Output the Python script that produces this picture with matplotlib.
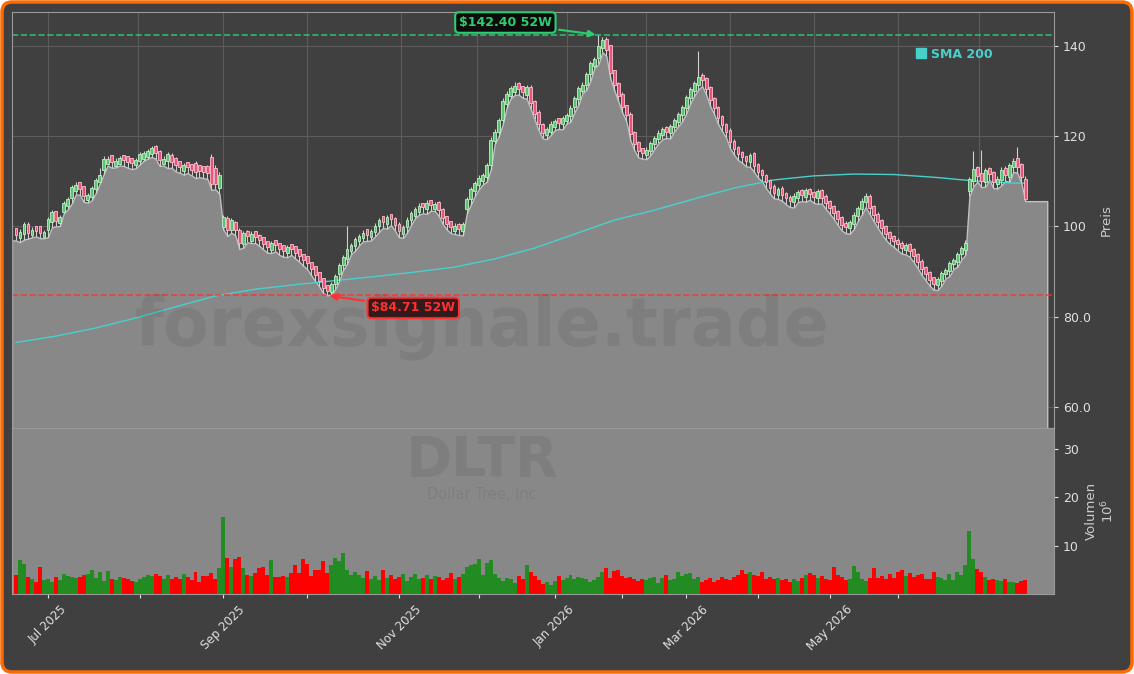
import numpy as np
import matplotlib.pyplot as plt
from matplotlib.patches import FancyBboxPatch
from matplotlib.lines import Line2D

# daily OHLC (USD)
open_ = [99.6, 97.4, 98.4, 100.6, 98.0, 100.0, 100.2, 97.6, 99.2, 101.0,
         103.4, 100.8, 103.2, 104.6, 106.2, 107.8, 109.8, 108.9, 105.8, 106.6,
         108.2, 109.8, 112.4, 113.8, 115.8, 113.4, 113.9, 115.9, 115.6, 115.2,
         113.6, 114.6, 115.0, 115.4, 116.0, 117.8, 116.8, 113.9, 114.4, 115.9,
         115.2, 114.4, 112.2, 114.2, 113.8, 114.0, 113.6, 113.4, 113.3, 115.4,
         113.0, 108.5, 99.8, 101.9, 99.2, 101.0, 99.2, 96.2, 99.0, 96.8,
         98.9, 98.2, 97.6, 96.8, 94.8, 97.0, 96.4, 95.9, 94.2, 96.2,
         95.6, 94.9, 94.0, 93.4, 92.2, 91.2, 89.9, 88.6, 87.0, 85.5,
         87.2, 89.4, 91.4, 92.8, 94.6, 95.6, 96.8, 97.5, 99.4, 97.6,
         98.8, 100.0, 102.2, 100.6, 102.8, 101.9, 100.6, 98.4, 99.8, 101.4,
         102.4, 103.2, 105.2, 103.8, 105.8, 103.9, 105.4, 103.9, 102.2, 101.2,
         99.0, 100.6, 99.0, 103.8, 106.0, 107.8, 109.2, 110.0, 111.0, 113.6,
         119.0, 121.0, 123.6, 127.2, 129.0, 129.8, 131.8, 131.2, 129.2, 130.9,
         127.8, 125.4, 122.8, 120.2, 121.0, 122.0, 124.0, 122.6, 123.4, 124.4,
         126.4, 128.2, 130.0, 131.4, 133.8, 135.6, 137.2, 139.6, 141.6, 140.2,
         134.6, 131.8, 129.4, 126.8, 125.0, 121.0, 118.8, 117.4, 115.8, 116.8,
         118.2, 119.4, 120.2, 122.0, 120.6, 122.0, 123.2, 124.6, 126.2, 128.4,
         130.0, 131.4, 133.6, 132.8, 130.8, 128.4, 126.4, 124.4, 122.8, 121.4,
         119.0, 117.6, 116.4, 115.6, 114.2, 116.2, 113.8, 112.6, 111.4, 110.3,
         109.0, 107.0, 108.6, 107.4, 106.6, 105.4, 106.4, 108.0, 106.6, 108.3,
         107.6, 106.2, 108.0, 106.8, 105.6, 104.6, 103.4, 102.0, 100.8, 99.6,
         100.6, 102.4, 103.8, 105.4, 106.8, 104.6, 102.8, 101.4, 100.0, 98.7,
         97.9, 97.1, 96.4, 94.8, 96.1, 95.0, 93.8, 92.4, 91.0, 89.8,
         88.8, 87.0, 88.0, 89.4, 90.2, 91.6, 92.2, 93.8, 94.8, 107.8,
         110.0, 113.2, 111.8, 109.9, 112.9, 112.0, 109.4, 110.2, 113.0, 111.0,
         113.2, 115.2, 113.8, 110.6]
high = [99.1, 99.4, 101.0, 100.9, 99.8, 99.6, 100.0, 99.3, 102.0, 103.6,
        103.5, 102.5, 105.6, 106.6, 109.2, 109.8, 109.7, 108.9, 107.5, 108.9,
        110.8, 113.0, 115.5, 115.6, 115.9, 115.1, 115.7, 115.5, 115.2, 114.8,
        115.2, 116.5, 116.8, 117.1, 117.8, 118.0, 116.9, 115.6, 116.5, 116.2,
        115.4, 114.1, 114.1, 113.9, 113.5, 114.4, 113.5, 113.3, 113.5, 116.0,
        113.6, 112.0, 102.6, 102.4, 101.9, 101.3, 99.6, 98.9, 99.1, 98.9,
        99.0, 98.3, 97.6, 96.4, 96.8, 96.9, 96.3, 95.6, 95.9, 96.1,
        95.4, 94.7, 94.0, 93.2, 92.1, 91.0, 89.8, 88.5, 87.0, 87.8,
        89.5, 92.0, 93.7, 100.0, 96.3, 97.7, 98.4, 99.1, 99.3, 99.5,
        100.7, 101.9, 102.1, 102.6, 102.7, 102.1, 100.9, 100.3, 102.0, 103.5,
        104.3, 105.1, 105.3, 105.8, 105.9, 105.5, 105.7, 104.1, 102.4, 101.2,
        100.7, 100.8, 101.0, 106.6, 108.7, 110.1, 111.3, 111.9, 114.0, 119.8,
        121.6, 124.0, 128.4, 130.0, 131.2, 131.9, 131.9, 131.1, 131.3, 131.4,
        128.1, 125.7, 123.0, 122.1, 123.3, 123.9, 124.1, 124.5, 125.1, 126.8,
        129.0, 131.1, 131.9, 134.3, 136.7, 137.5, 142.4, 141.9, 141.9, 140.3,
        134.7, 132.0, 129.7, 126.9, 125.3, 121.1, 118.9, 117.3, 117.5, 119.0,
        120.1, 121.3, 122.0, 122.2, 122.8, 124.1, 125.3, 126.9, 129.1, 130.9,
        132.3, 138.8, 133.9, 133.0, 131.2, 128.7, 126.6, 124.7, 123.0, 121.7,
        119.3, 117.9, 116.7, 115.7, 116.3, 116.5, 114.1, 112.8, 111.7, 110.6,
        109.3, 108.7, 108.9, 107.7, 106.9, 107.3, 108.1, 108.3, 108.5, 108.6,
        107.9, 108.3, 108.4, 107.1, 105.9, 104.8, 103.7, 102.3, 101.1, 101.4,
        103.1, 104.6, 106.2, 107.3, 107.1, 104.7, 103.2, 101.7, 100.3, 99.0,
        98.1, 97.4, 96.7, 96.3, 96.4, 95.3, 94.1, 92.7, 91.3, 90.1,
        88.9, 88.9, 90.1, 90.9, 92.3, 93.1, 94.4, 95.7, 96.9, 111.0,
        116.8, 113.4, 117.0, 112.9, 113.1, 112.3, 111.1, 113.1, 113.3, 114.0,
        115.1, 117.6, 114.0, 111.1]
low = [96.9, 96.5, 97.1, 97.3, 97.6, 97.8, 97.4, 97.4, 97.6, 99.8,
       100.0, 100.1, 103.0, 103.8, 105.1, 107.1, 107.0, 105.4, 105.3, 105.8,
       107.4, 109.5, 111.6, 113.5, 113.0, 113.1, 113.5, 113.4, 113.0, 112.7,
       112.9, 113.7, 114.6, 115.0, 115.4, 115.0, 113.4, 113.5, 112.9, 113.0,
       112.2, 111.9, 111.5, 111.8, 111.3, 110.7, 110.9, 110.7, 110.5, 108.1,
       108.2, 107.2, 99.3, 97.9, 98.6, 98.0, 95.0, 95.3, 96.5, 96.3,
       96.3, 95.7, 94.9, 94.2, 94.1, 94.5, 93.7, 93.3, 93.2, 93.7,
       92.9, 92.2, 91.3, 90.5, 89.2, 87.9, 86.7, 85.3, 84.71, 85.0,
       86.1, 87.9, 90.4, 91.7, 93.9, 94.6, 95.8, 96.7, 96.8, 96.9,
       97.8, 98.8, 99.7, 99.5, 100.3, 99.1, 97.6, 97.5, 98.6, 100.3,
       101.8, 102.6, 102.9, 102.8, 103.5, 103.4, 102.3, 100.5, 99.3, 98.5,
       98.3, 98.1, 98.0, 102.9, 104.8, 106.7, 108.2, 109.3, 109.9, 112.6,
       118.2, 119.9, 122.6, 126.3, 128.4, 129.1, 129.2, 128.5, 128.3, 126.1,
       123.7, 121.3, 119.5, 119.3, 120.2, 121.3, 121.6, 121.5, 122.8, 123.2,
       125.3, 127.0, 129.5, 130.3, 132.3, 135.1, 135.9, 138.6, 137.7, 132.7,
       130.1, 127.7, 125.2, 123.3, 119.1, 116.9, 115.3, 115.0, 114.9, 115.8,
       117.1, 118.4, 119.3, 119.6, 119.5, 121.1, 122.2, 123.3, 125.0, 127.2,
       128.9, 130.3, 131.1, 129.2, 126.7, 124.9, 122.7, 121.1, 119.7, 117.3,
       115.9, 114.7, 114.1, 113.3, 113.2, 112.1, 110.8, 110.0, 108.5, 107.3,
       106.2, 106.1, 105.7, 104.9, 104.3, 104.2, 105.4, 105.6, 105.5, 105.9,
       105.2, 105.0, 105.1, 103.9, 102.8, 101.7, 100.3, 99.1, 98.5, 98.4,
       99.4, 101.2, 102.6, 104.3, 102.7, 101.2, 99.7, 98.3, 97.1, 96.1,
       95.5, 94.7, 94.0, 93.8, 93.3, 92.1, 90.8, 89.3, 88.1, 86.9,
       86.0, 85.9, 86.9, 88.5, 89.0, 90.6, 91.1, 92.7, 93.7, 106.7,
       108.9, 109.9, 108.7, 108.8, 110.3, 108.5, 108.4, 109.1, 110.1, 109.9,
       112.1, 111.9, 109.7, 105.6]
close = [98.2, 98.8, 100.6, 98.6, 99.3, 99.0, 98.6, 98.8, 101.6, 103.2,
         101.2, 102.0, 105.2, 106.0, 108.7, 109.2, 108.2, 106.7, 106.9, 108.5,
         110.3, 111.5, 115.0, 115.0, 114.2, 114.6, 115.2, 114.7, 114.3, 114.0,
         114.8, 116.0, 116.2, 116.6, 117.3, 116.3, 114.7, 115.0, 116.0, 114.3,
         113.5, 113.2, 113.6, 113.1, 112.6, 112.0, 112.2, 112.0, 111.8, 109.4,
         109.5, 111.5, 102.0, 99.2, 101.4, 99.3, 96.3, 98.5, 97.8, 98.4,
         97.6, 97.0, 96.2, 95.5, 96.3, 95.8, 95.0, 94.6, 95.4, 95.0,
         94.2, 93.5, 92.6, 91.8, 90.5, 89.2, 88.0, 86.4, 85.6, 87.2,
         89.0, 91.5, 93.2, 95.0, 95.8, 97.2, 97.9, 98.6, 98.1, 99.0,
         100.2, 101.4, 101.0, 102.1, 101.6, 100.4, 98.9, 99.8, 101.5, 103.0,
         103.8, 104.6, 104.2, 105.3, 104.8, 105.0, 103.6, 101.8, 100.6, 99.8,
         100.2, 99.4, 100.5, 106.0, 108.2, 109.6, 110.8, 111.4, 113.5, 119.2,
         121.0, 123.5, 127.8, 129.4, 130.6, 131.2, 130.5, 129.8, 130.8, 127.4,
         125.0, 122.6, 120.8, 121.6, 122.8, 123.4, 122.9, 124.0, 124.6, 126.3,
         128.5, 130.6, 131.4, 133.8, 136.2, 137.0, 140.0, 141.2, 139.0, 134.0,
         131.4, 129.0, 126.5, 124.6, 120.4, 118.2, 116.6, 116.3, 117.0, 118.5,
         119.6, 120.8, 121.5, 120.9, 122.3, 123.6, 124.8, 126.4, 128.6, 130.4,
         131.8, 133.2, 132.4, 130.5, 128.0, 126.2, 124.0, 122.4, 121.0, 118.6,
         117.2, 116.0, 115.4, 114.6, 115.8, 113.4, 112.1, 111.3, 109.8, 108.6,
         107.5, 108.2, 107.0, 106.2, 105.6, 106.8, 107.6, 106.9, 108.0, 107.2,
         106.5, 107.8, 106.4, 105.2, 104.1, 103.0, 101.6, 100.4, 99.8, 100.9,
         102.6, 104.1, 105.7, 106.8, 104.0, 102.5, 101.0, 99.6, 98.4, 97.4,
         96.8, 96.0, 95.3, 95.8, 94.6, 93.4, 92.1, 90.6, 89.4, 88.2,
         87.3, 88.4, 89.6, 90.4, 91.8, 92.6, 93.9, 95.2, 96.4, 110.5,
         112.8, 111.2, 110.0, 112.4, 111.6, 109.8, 110.6, 112.6, 111.4, 113.5,
         114.6, 113.2, 111.0, 106.0]
# volume in millions
volume = [4.0, 7.0, 6.2, 3.5, 3.0, 2.5, 5.5, 2.8, 3.2, 2.5,
          3.6, 2.8, 4.2, 3.8, 3.5, 3.4, 3.6, 4.0, 4.1, 5.0,
          3.4, 4.6, 2.6, 4.8, 3.2, 2.8, 3.5, 3.3, 3.0, 2.6,
          2.4, 3.0, 3.6, 4.0, 3.8, 4.2, 3.7, 3.2, 4.0, 3.1,
          3.6, 3.0, 4.2, 3.5, 2.8, 4.6, 2.5, 3.7, 3.8, 4.4,
          3.0, 5.4, 15.9, 7.4, 5.6, 7.3, 7.6, 5.4, 3.9, 3.7,
          4.4, 5.4, 5.5, 3.9, 7.1, 3.5, 3.5, 3.7, 3.5, 4.4,
          6.0, 4.4, 7.3, 6.2, 3.8, 5.0, 5.0, 6.8, 4.4, 6.0,
          7.4, 6.9, 8.5, 5.0, 3.9, 4.5, 4.0, 3.4, 4.8, 3.2,
          3.8, 2.8, 4.9, 3.3, 4.0, 3.1, 3.5, 4.2, 2.6, 3.6,
          4.1, 3.2, 3.4, 4.0, 3.0, 3.8, 3.6, 2.9, 3.3, 4.4,
          3.0, 3.6, 4.2, 5.6, 6.0, 6.2, 7.2, 4.0, 6.4, 7.0,
          4.2, 3.3, 2.6, 3.4, 3.0, 2.2, 3.8, 3.2, 6.0, 4.5,
          3.8, 2.9, 2.1, 2.4, 1.8, 2.6, 3.8, 2.8, 3.4, 4.0,
          3.2, 3.6, 3.3, 3.0, 2.5, 2.8, 3.6, 4.6, 5.4, 3.4,
          4.8, 5.0, 3.7, 3.3, 3.6, 3.0, 2.6, 3.2, 2.8, 3.4,
          3.6, 2.3, 3.4, 4.0, 2.9, 3.2, 4.6, 3.7, 4.2, 4.3,
          3.0, 3.6, 2.5, 2.9, 3.3, 2.4, 2.8, 3.5, 3.0, 2.8,
          3.6, 4.0, 5.0, 4.2, 4.5, 4.0, 3.8, 4.6, 3.2, 3.6,
          3.0, 3.3, 2.8, 3.0, 2.5, 3.1, 2.6, 3.4, 3.9, 4.4,
          4.0, 3.3, 3.8, 3.0, 2.8, 5.6, 4.0, 3.6, 2.9, 3.2,
          5.8, 4.5, 3.0, 2.6, 3.4, 5.4, 3.3, 3.8, 3.0, 4.2,
          3.3, 4.6, 5.0, 3.8, 4.4, 3.6, 4.0, 4.2, 3.2, 3.0,
          4.6, 3.6, 3.4, 2.8, 4.2, 2.8, 4.5, 3.9, 6.0, 13.0,
          7.2, 5.2, 4.6, 3.6, 2.9, 3.2, 2.8, 2.6, 3.0, 2.5,
          2.4, 2.2, 2.6, 2.8]

# 200-day SMA sampled every 10 bars
sma_idx = [0, 10, 20, 30, 40, 50, 60, 70, 80, 90, 100, 110, 120, 130,
           140, 150, 160, 170, 180, 190, 200, 210, 220, 230, 240, 250, 253]
sma_val = [74.3, 75.7, 77.5, 79.7, 82.2, 84.6, 86.1, 87.1, 88.0, 88.9,
           89.9, 91.0, 92.8, 95.2, 98.3, 101.4, 103.6, 106.1, 108.5, 110.3,
           111.2, 111.6, 111.5, 110.9, 110.1, 109.6, 109.6]

# month starts (bar index) used for the price grid
grid_pos = [8, 30.5, 52, 73, 96.5, 115.5, 138, 158, 179, 200, 221, 241.5]
# date ticks of the volume panel
tick_pos = [8, 31, 52, 73, 96, 116, 135, 152, 168, 186, 204, 221]
tick_labels = ["Jul 2025", "", "Sep 2025", "", "Nov 2025", "",
               "Jan 2026", "", "Mar 2026", "", "May 2026", ""]

symbol = "DLTR"
company = "Dollar Tree, Inc"

BG = "#404040"
FG = "#e0e0e0"
TEAL = "#48d1cc"
GREEN = "#2ecc71"
RED = "#ff3030"

o = np.array(open_)
c = np.array(close)
h = np.array(high)
l = np.array(low)
x = np.arange(len(c))
up = c >= o

fig = plt.figure(figsize=(11.34, 6.74), dpi=100, facecolor="white")
frame = FancyBboxPatch((0.02, 0.02), 11.30, 6.70,
                       boxstyle="round,pad=0,rounding_size=0.1",
                       transform=fig.dpi_scale_trans, facecolor=BG,
                       edgecolor="#ff6a00", lw=2.5, zorder=-10)
fig.patches.append(frame)

ax = fig.add_axes([0.01058, 0.36499, 0.91887, 0.61721])
axv = fig.add_axes([0.01058, 0.11869, 0.91887, 0.24629])
ax.set_facecolor(BG)
axv.set_facecolor("#888888")

# grey area under the price, from the left edge to a bit past the last bar
x0, x1 = -1, x[-1] + 5.5
fx = np.concatenate([[x0], x, [x1]])
fy = np.concatenate([[l[0]], l, [l[-1]]])
ax.fill_between(fx, fy, 40, facecolor="#888888", edgecolor="#c0c0c0",
                lw=1.0, zorder=1)

ax.plot(sma_idx, sma_val, color=TEAL, lw=1.0, zorder=2)

# candles
body_lo = np.minimum(o, c)
body_hi = np.maximum(o, c)
ax.vlines(x, np.minimum(l, body_lo), np.maximum(h, body_hi),
          color="#d0d0d0", lw=0.8, zorder=3)
ax.bar(x, np.maximum(body_hi - body_lo, 0.15), bottom=body_lo, width=0.7,
       color=np.where(up, "#5cc46e", "#e8557a"),
       edgecolor=np.where(up, "#c0f0c8", "#ffc0cc"), lw=0.6, zorder=4)

hi_i = int(np.argmax(h))
lo_i = int(np.argmin(l))
ax.axhline(h[hi_i], color=GREEN, ls="--", lw=1.2, alpha=0.85, zorder=2)
ax.axhline(l[lo_i], color=RED, ls="--", lw=1.2, alpha=0.8, zorder=2)

ax.annotate(f"${h[hi_i]:.2f} 52W", xy=(hi_i, h[hi_i]), xytext=(-67, 9),
            textcoords="offset points", ha="center", va="center",
            color=GREEN, fontsize=9, fontweight="bold", zorder=6,
            bbox=dict(boxstyle="round,pad=0.3", fc=(0, 0, 0, 0.8),
                      ec=GREEN, lw=1.5),
            arrowprops=dict(arrowstyle="-|>", color=GREEN, lw=1.5,
                            mutation_scale=10))
ax.annotate(f"${l[lo_i]:.2f} 52W", xy=(lo_i, l[lo_i]), xytext=(62, -9),
            textcoords="offset points", ha="center", va="center",
            color=RED, fontsize=9, fontweight="bold", zorder=6,
            bbox=dict(boxstyle="round,pad=0.3", fc=(0.15, 0.03, 0.03, 0.85),
                      ec=RED, lw=1.5),
            arrowprops=dict(arrowstyle="-|>", color=RED, lw=1.5,
                            mutation_scale=10))

ax.text(0.451, 0.243, "forexsignale.trade", transform=ax.transAxes,
        fontsize=48, fontweight="bold", color="black", alpha=0.07,
        ha="center", va="center", zorder=5)

ax.legend(handles=[Line2D([], [], marker="s", ls="none", color=TEAL,
                          markersize=7, label="SMA 200")],
          loc="center", bbox_to_anchor=(0.904, 0.899), frameon=False,
          labelcolor=TEAL, prop={"weight": "bold", "size": 9},
          handlelength=0.8, handletextpad=0.4)

# volume
axv.bar(x, volume, width=1.0, color=np.where(up, "#228b22", "#ff0000"),
        zorder=2)
axv.text(0.451, 0.80, symbol, transform=axv.transAxes, fontsize=40,
         fontweight="bold", color="black", alpha=0.07, ha="center",
         va="center")
axv.text(0.451, 0.60, company, transform=axv.transAxes, fontsize=10.5,
         color="black", alpha=0.07, ha="center", va="center")

for a in (ax, axv):
    a.set_xlim(-1, 260.2)
ax.set_ylim(55.35, 147.5)
axv.set_ylim(0, 34.3)

ax.yaxis.tick_right()
ax.yaxis.set_label_position("right")
ax.set_yticks([60, 80, 100, 120, 140])
ax.yaxis.set_major_formatter(lambda v, p: f"{v:.1f}" if v < 100 else f"{v:.0f}")
ax.set_ylabel("Preis", color="#cccccc", fontsize=9.5, labelpad=6)
ax.tick_params(axis="y", colors=FG, labelsize=9, length=3)
ax.set_xticks(grid_pos)
ax.tick_params(axis="x", labelbottom=False, length=0)
ax.grid(True, color="#5c5c5c", lw=0.8)
ax.set_axisbelow(True)

axv.yaxis.tick_right()
axv.yaxis.set_label_position("right")
axv.set_yticks([10, 20, 30])
axv.set_ylabel("Volumen\n$10^6$", color="#cccccc", fontsize=9.5, labelpad=4)
axv.tick_params(axis="y", colors=FG, labelsize=9, length=3)
axv.set_xticks(tick_pos)
axv.set_xticklabels(tick_labels)
axv.tick_params(axis="x", colors=FG, labelsize=8.5, length=3, rotation=45)

for a in (ax, axv):
    for s in a.spines.values():
        s.set_color("#9a9a9a")
        s.set_linewidth(0.8)

fig.savefig("out.png", dpi=100, facecolor=fig.get_facecolor())
